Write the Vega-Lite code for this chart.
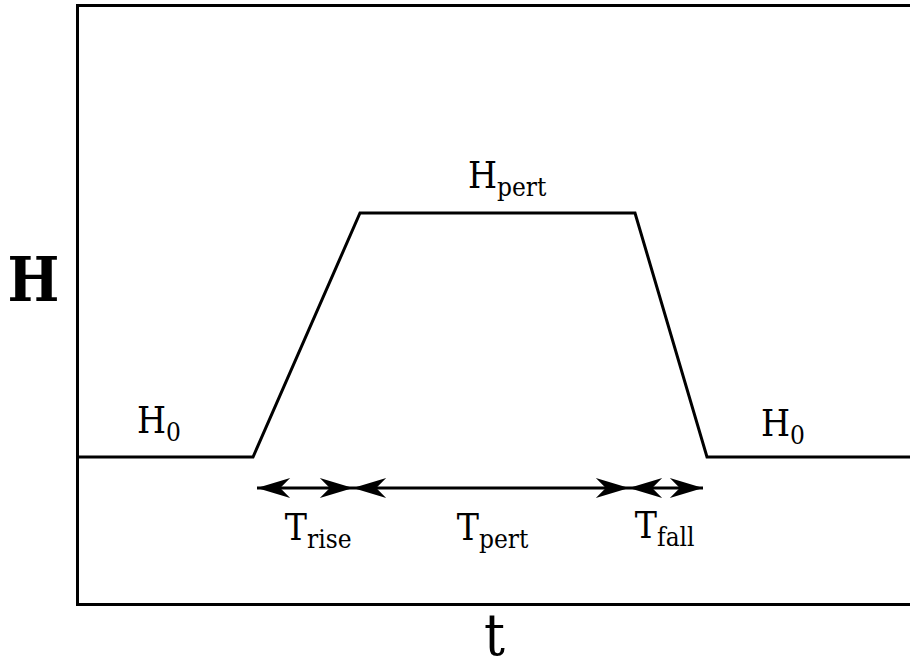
{
  "$schema": "https://vega.github.io/schema/vega-lite/v6.json",
  "width": 833,
  "height": 599,
  "autosize": {"type": "none"},
  "padding": {"left": 77, "top": 5, "right": 0, "bottom": 60},
  "background": "white",
  "config": {
    "view": {"stroke": null},
    "font": "DejaVu Serif Condensed, DejaVu Serif, serif",
    "axis": {"grid": false, "labels": false, "ticks": false, "domainColor": "black", "domainWidth": 3, "domainCap": "square", "titleFont": "DejaVu Serif Condensed, DejaVu Serif, serif", "titleColor": "black", "titleFontWeight": "normal"}
  },
  "datasets": {
    "profile": [
      {"t": 0, "H": 147},
      {"t": 176, "H": 147},
      {"t": 283, "H": 391},
      {"t": 558, "H": 391},
      {"t": 630, "H": 147},
      {"t": 833, "H": 147}
    ],
    "spans": [
      {"span": "rise", "t0": 180, "t1": 276, "H": 116},
      {"span": "pert", "t0": 276, "t1": 552, "H": 116},
      {"span": "fall", "t0": 552, "t1": 626, "H": 116}
    ],
    "labels": [
      {"main": "H", "sub": "0", "t": 89, "H": 171},
      {"main": "H", "sub": "pert", "t": 420, "H": 416},
      {"main": "H", "sub": "0", "t": 713, "H": 168},
      {"main": "T", "sub": "rise", "t": 230, "H": 64},
      {"main": "T", "sub": "pert", "t": 402, "H": 64},
      {"main": "T", "sub": "fall", "t": 580, "H": 66}
    ]
  },
  "layer": [
    {
      "data": {"name": "profile"},
      "mark": {"type": "line", "color": "black", "strokeWidth": 3, "strokeJoin": "miter"},
      "encoding": {
        "x": {"field": "t", "type": "quantitative", "scale": {"domain": [0, 833], "nice": false, "zero": false},
              "axis": {"orient": "bottom", "title": "t", "titleFontSize": 58, "titleX": 417, "titleY": 50, "titleBaseline": "alphabetic", "titleAlign": "center"}},
        "y": {"field": "H", "type": "quantitative", "scale": {"domain": [0, 599], "nice": false, "zero": false},
              "axis": {"orient": "left", "title": "H", "titleAngle": 0, "titleFontSize": 61, "titleFontWeight": "bold", "titleX": -44, "titleY": 295, "titleAlign": "center", "titleBaseline": "alphabetic"}}
      }
    },
    {
      "data": {"name": "spans"},
      "mark": {"type": "rule", "color": "black", "strokeWidth": 3},
      "encoding": {
        "x": {"field": "t0", "type": "quantitative", "axis": {"orient": "top", "title": null}},
        "x2": {"field": "t1"},
        "y": {"field": "H", "type": "quantitative", "axis": null}
      }
    },
    {
      "data": {"name": "spans"},
      "transform": [{"fold": ["t0", "t1"], "as": ["end", "t"]}],
      "mark": {"type": "point", "filled": true, "opacity": 1, "color": "black", "size": 1100, "strokeWidth": 0},
      "encoding": {
        "x": {"field": "t", "type": "quantitative", "axis": null},
        "y": {"field": "H", "type": "quantitative", "axis": null},
        "shape": {"field": "end", "type": "nominal", "legend": null,
                  "scale": {"domain": ["t0", "t1"], "range": ["M0,0 L2,-0.6 L1.4,0 L2,0.6 Z", "M0,0 L-2,-0.6 L-1.4,0 L-2,0.6 Z"]}}
      }
    },
    {
      "data": {"name": "labels"},
      "mark": {"type": "text", "align": "right", "baseline": "alphabetic", "fontSize": 37, "font": "DejaVu Serif Condensed, DejaVu Serif, serif", "color": "black"},
      "encoding": {
        "x": {"field": "t", "type": "quantitative", "axis": null},
        "y": {"field": "H", "type": "quantitative", "axis": null},
        "text": {"field": "main"}
      }
    },
    {
      "data": {"name": "labels"},
      "mark": {"type": "text", "align": "left", "baseline": "alphabetic", "fontSize": 26, "dy": 8, "font": "DejaVu Serif Condensed, DejaVu Serif, serif", "color": "black"},
      "encoding": {
        "x": {"field": "t", "type": "quantitative", "axis": null},
        "y": {"field": "H", "type": "quantitative", "axis": null},
        "text": {"field": "sub"}
      }
    }
  ],
  "resolve": {"axis": {"x": "independent", "y": "independent"}}
}
